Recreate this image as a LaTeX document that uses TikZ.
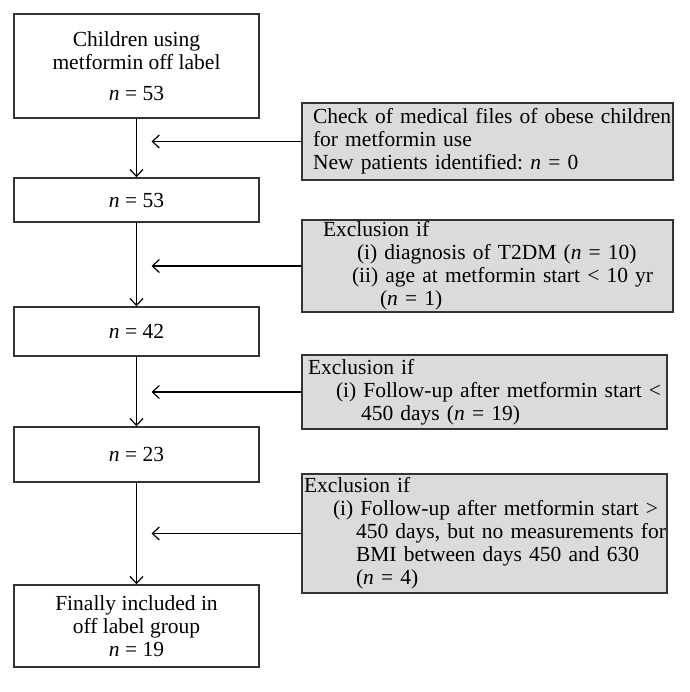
\documentclass[tikz,border=0pt]{standalone}
\usepackage{fontspec}
\setmainfont{Liberation Serif}
\usetikzlibrary{arrows.meta}
\frenchspacing

\begin{document}
\begin{tikzpicture}[x = 1pt, y = -1pt,
	font = \fontsize{21.5}{23}\selectfont,
	stage/.style = {draw = black!80, line width = 1.4pt, minimum width = 245pt, align = center, inner sep = 0pt},
	side/.style = {draw = black!80, line width = 1.4pt, fill = black!14, align = left, inner sep = 0pt},
	arr/.style = {-{Straight Barb[length = 7pt, width = 13pt]}, line width = 1.2pt}]
	\useasboundingbox (0,0) rectangle (689,692);
	\node[stage, minimum height = 104pt] (start) at (136.5,66) {Children using\\metformin off label\\[8pt]\textit{n} = 53};
	\node[stage, minimum height = 44pt] (n53) at (136.5,200) {\textit{n} = 53};
	\node[stage, minimum height = 49pt] (n42) at (136.5,331.5) {\textit{n} = 42};
	\node[stage, minimum height = 55pt] (n23) at (136.5,454.5) {\textit{n} = 23};
	\node[stage, minimum height = 82pt] (final) at (136.5,626) {Finally included in\\off label group\\\textit{n} = 19};
	\node[side, text width = 371pt, minimum height = 77pt] (check) at (487.5,141.5) {\hspace*{11pt}Check of medical files of obese children\\\hspace*{11pt}for metformin use\\\hspace*{11pt}New patients identified: \textit{n} = 0};
	\node[side, text width = 371pt, minimum height = 92pt] (exclA) at (487.5,266) {\hspace*{21pt}Exclusion if\\\hspace*{55pt}(i) diagnosis of T2DM (\textit{n} = 10)\\\hspace*{50pt}(ii) age at metformin start < 10 yr\\\hspace*{78pt}(\textit{n} = 1)};
	\node[side, text width = 365pt, minimum height = 74pt] (exclB) at (484.5,392) {\hspace*{6pt}Exclusion if\\\hspace*{34pt}(i) Follow-up after metformin start <\\\hspace*{59pt}450 days (\textit{n} = 19)};
	\node[side, text width = 365pt, minimum height = 119pt] (exclC) at (484.5,533.5) {\hspace*{2pt}Exclusion if\\\hspace*{31pt}(i) Follow-up after metformin start >\\\hspace*{54pt}450 days, but no measurements for\\\hspace*{54pt}BMI between days 450 and 630\\\hspace*{54pt}(\textit{n} = 4)};
	\draw[arr] (start.south) -- (n53.north);
	\draw[arr] (n53.south) -- (n42.north);
	\draw[arr] (n42.south) -- (n23.north);
	\draw[arr] (n23.south) -- (final.north);
	\draw[arr] (check.west) -- ([xshift = 15pt] check.west -| start.south);
	\draw[arr] (exclA.west) -- ([xshift = 15pt] exclA.west -| n53.south);
	\draw[arr] (exclB.west) -- ([xshift = 15pt] exclB.west -| n42.south);
	\draw[arr] (exclC.west) -- ([xshift = 15pt] exclC.west -| n23.south);
\end{tikzpicture}
\end{document}
